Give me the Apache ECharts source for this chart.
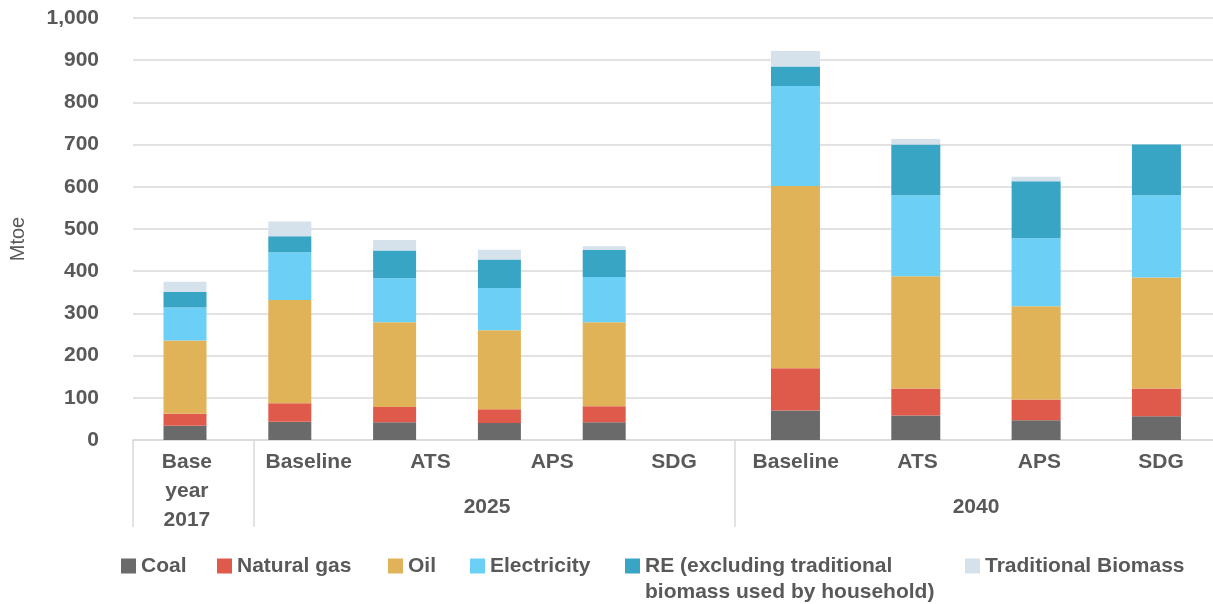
<!DOCTYPE html>
<html>
<head>
<meta charset="utf-8">
<title>Final energy consumption by fuel and scenario (Mtoe)</title>
<script src="https://cdn.jsdelivr.net/npm/echarts@6/dist/echarts.min.js"></script>
<style>
  html, body { margin: 0; padding: 0; background: #ffffff; }
  #chart { width: 1213px; height: 604px; }
</style>
</head>
<body>
<div id="chart"></div>
<script>
// Scenario labels along the bottom axis and the period labels below them
const scenarioLabels = ['Base\nyear\n2017', 'Baseline', 'ATS', 'APS', 'SDG', 'Baseline', 'ATS', 'APS', 'SDG'];
const periodLabels = ['2025', '2040'];

// Final energy consumption by fuel, Mtoe
const coal        = [34, 43, 42, 40, 42, 70, 58, 47, 56];
const naturalGas  = [28, 44, 36, 33, 38, 100, 64, 49, 66];
const oil         = [174, 245, 201, 187, 199, 432, 266, 221, 263];
const electricity = [78, 113, 104, 100, 107, 237, 192, 161, 195];
const renewables  = [37, 38, 66, 68, 64, 46, 120, 135, 120];
const tradBiomass = [24, 35, 25, 23, 9, 37, 13, 11, 0];

const seriesNames = ['Coal', 'Natural gas', 'Oil', 'Electricity',
  'RE (excluding traditional\nbiomass used by household)', 'Traditional Biomass'];
const seriesData = [coal, naturalGas, oil, electricity, renewables, tradBiomass];
const seriesColors = ['#6a6a6a', '#e05a4b', '#e1b358', '#6ccff6', '#38a5c4', '#d5e2ec'];

const yTicks = { min: 0, max: 1000, interval: 100 };

const FONT = "'Liberation Sans', Arial, sans-serif";
const TEXT = '#595959';
const LINE = '#d9d9d9';

const PLOT_TOP = 18;
const PLOT_BOTTOM = 164;

const chart = echarts.init(document.getElementById('chart'), null, { renderer: 'canvas' });

function hiddenY() {
  return { type: 'value', show: false, min: yTicks.min, max: yTicks.max, interval: yTicks.interval };
}

function grid(rect) {
  return Object.assign({ top: PLOT_TOP, bottom: PLOT_BOTTOM, outerBoundsMode: 'none', containLabel: false }, rect);
}

// Grid 0: value axis, gridlines and the base axis line
// Grid 1: base year + 2025 bars; Grid 2: 2040 bars
// Grid 3: scenario labels; Grid 4: group separators; Grid 5: period labels
const grids = [
  grid({ left: 133, right: 0 }),
  grid({ left: 132.6, width: 524 }),
  grid({ left: 735.3, width: 481.3 }),
  grid({ left: 126, width: 1096 }),
  grid({ left: 133, width: 1202.5 }),
  grid({ left: 242.5, width: 978 })
];

const xAxes = [
  {
    gridIndex: 0, type: 'category', data: scenarioLabels,
    axisLine: { show: true, lineStyle: { color: LINE, width: 1.5 } },
    axisTick: { show: false }, axisLabel: { show: false }, splitLine: { show: false }
  },
  { gridIndex: 1, type: 'category', data: scenarioLabels.slice(0, 5), show: false },
  { gridIndex: 2, type: 'category', data: scenarioLabels.slice(5), show: false },
  {
    gridIndex: 3, type: 'category', data: scenarioLabels,
    axisLine: { show: false }, axisTick: { show: false },
    axisLabel: {
      interval: 0, margin: 8, color: TEXT, fontFamily: FONT,
      fontWeight: 'bold', fontSize: 21, lineHeight: 29
    }
  },
  {
    gridIndex: 4, type: 'category', data: ['', '', '', '', '', '', '', '', '', ''],
    axisLine: { show: false }, axisLabel: { show: false },
    axisTick: {
      show: true, length: 87,
      interval: function (idx) { return idx === 0 || idx === 1 || idx === 5; },
      lineStyle: { color: LINE, width: 1.5 }
    }
  },
  {
    gridIndex: 5, type: 'category', data: periodLabels,
    axisLine: { show: false }, axisTick: { show: false },
    axisLabel: {
      interval: 0, margin: 53, color: TEXT, fontFamily: FONT,
      fontWeight: 'bold', fontSize: 21, lineHeight: 29
    }
  }
];

const yAxes = [
  {
    gridIndex: 0, type: 'value', min: yTicks.min, max: yTicks.max, interval: yTicks.interval,
    name: 'Mtoe', nameLocation: 'middle', nameGap: 105, nameRotate: 90,
    nameTextStyle: { color: TEXT, fontFamily: FONT, fontSize: 20, padding: [0, 20, 0, 0] },
    axisLine: { show: false }, axisTick: { show: false },
    axisLabel: {
      margin: 34, color: TEXT, fontFamily: FONT, fontWeight: 'bold', fontSize: 21,
      formatter: function (v) { return v.toLocaleString('en-US'); }
    },
    splitLine: { show: true, lineStyle: { color: LINE, width: 1.5 } }
  },
  hiddenY(), hiddenY(), hiddenY(), hiddenY(), hiddenY()
];
for (let i = 1; i < yAxes.length; i++) yAxes[i].gridIndex = i;

const series = [];
seriesNames.forEach(function (name, s) {
  [[1, 0, 5, 43], [2, 5, 9, 49]].forEach(function (part) {
    series.push({
      type: 'bar', name: name, stack: 'total' + part[0],
      xAxisIndex: part[0], yAxisIndex: part[0],
      barWidth: part[3],
      itemStyle: { color: seriesColors[s] },
      data: seriesData[s].slice(part[1], part[2])
    });
  });
});

// One legend per entry so each key sits at its own spot along the bottom
const legendLeft = [121, 217, 388, 470, 625, 965];
const legends = seriesNames.map(function (name, i) {
  const twoLine = name.indexOf('\n') >= 0;
  return {
    data: [{ name: name, icon: 'rect', itemStyle: { color: seriesColors[i] } }],
    // the wrapped entry gets an empty leading line so its first line sits level with the key
    formatter: twoLine ? function (n) { return ' \n' + n; } : '{name}',
    left: legendLeft[i],
    top: twoLine ? 527 : 553,
    orient: 'horizontal',
    itemWidth: 15, itemHeight: 15, itemGap: 0,
    padding: 0,
    textStyle: { color: TEXT, fontFamily: FONT, fontWeight: 'bold', fontSize: 21, lineHeight: 26 }
  };
});

chart.setOption({
  animation: false,
  backgroundColor: '#ffffff',
  textStyle: { fontFamily: FONT },
  grid: grids,
  xAxis: xAxes,
  yAxis: yAxes,
  legend: legends,
  series: series
});
</script>
</body>
</html>
